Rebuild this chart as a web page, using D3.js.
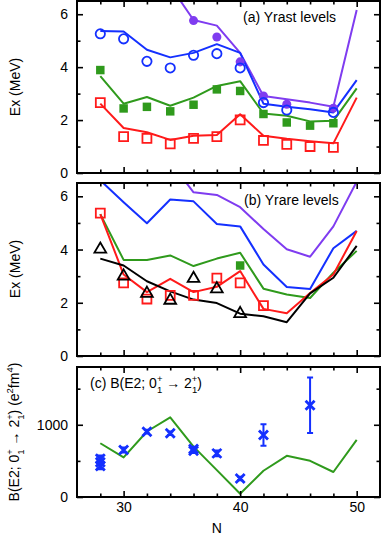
<!DOCTYPE html>
<html>
<head>
<meta charset="utf-8">
<script src="https://cdn.jsdelivr.net/npm/d3@7"></script>
<style>
  body { margin: 0; background: #fff; }
  svg { display: block; font-family: 'Liberation Sans', sans-serif; }
</style>
</head>
<body>
<svg id="chart" width="382" height="538"></svg>
<script>
// neutron numbers
const N = [28, 30, 32, 34, 36, 38, 40, 42, 44, 46, 48, 50]

// (a) yrast levels: experiment (markers) and calculation (lines)
const expA2N = [28, 30, 32, 34, 36, 38, 40, 42, 44, 46, 48]
const expA2  = [2.66, 1.375, 1.31, 1.1, 1.31, 1.375, 2.01, 1.23, 1.08, 1.0, 0.97]
const expA4N = [28, 30, 32, 34, 36, 38, 40, 42, 44, 46, 48]
const expA4  = [3.89, 2.44, 2.5, 2.33, 2.58, 3.16, 3.1, 2.23, 1.91, 1.79, 1.88]
const expA6N = [28, 30, 32, 34, 36, 38, 40, 42, 44, 48]
const expA6  = [5.26, 5.07, 4.22, 3.97, 4.45, 4.51, 3.97, 2.66, 2.38, 2.29]
const expA8N = [36, 38, 40, 42, 44, 48]
const expA8  = [5.76, 5.14, 4.2, 2.91, 2.6, 2.45]
const calcA2 = [2.62, 1.7, 1.54, 1.25, 1.41, 1.44, 2.22, 1.41, 1.29, 1.2, 1.12, 2.85]
const calcA4 = [3.66, 2.62, 2.87, 2.54, 2.85, 3.29, 3.47, 2.25, 2.16, 1.95, 1.97, 3.2]
const calcA6 = [5.37, 5.35, 4.66, 4.37, 4.54, 4.87, 4.54, 2.62, 2.5, 2.41, 2.29, 3.51]
const calcA8N = [34, 36, 38, 40, 42, 44, 46, 48, 50]
const calcA8 = [7.07, 5.78, 5.57, 4.54, 2.91, 2.79, 2.66, 2.5, 6.16]

// (b) yrare levels
const expB0N = [28, 30, 32, 34, 36, 38, 40]
const expB0  = [4.01, 3.0, 2.35, 2.09, 2.91, 2.52, 1.59]
const expB2N = [28, 30, 32, 34, 36, 38, 40, 42]
const expB2  = [5.37, 2.75, 2.14, 2.28, 2.28, 2.93, 2.75, 1.89]
const expB4N = [40]
const expB4  = [3.40]
const calcB0 = [3.66, 3.40, 2.81, 2.43, 2.12, 1.99, 1.59, 1.49, 1.27, 2.35, 2.94, 4.14]
const calcB2 = [5.33, 3.06, 2.40, 2.90, 2.40, 2.60, 3.19, 1.77, 1.61, 2.37, 3.06, 4.70]
const calcB4 = [5.33, 3.61, 3.61, 3.78, 3.38, 3.66, 3.88, 2.53, 2.31, 2.18, 3.13, 3.95]
const calcB6 = [6.6, 5.78, 4.99, 5.88, 5.81, 4.96, 4.87, 3.44, 2.59, 2.52, 4.05, 4.70]
const calcB8N = [34, 36, 38, 40, 42, 44, 46, 48, 50]
const calcB8 = [7.3, 6.15, 6.05, 5.59, 4.77, 4.01, 3.73, 4.87, 6.55]

// (c) B(E2) values
const calcBE2 = [744, 549, 907, 1102, 698, 372, 45, 363, 570, 501, 346, 791]
const expBE2N = [28, 28, 28, 30, 32, 34, 36, 36, 38, 40, 42, 46]
const expBE2  = [430, 480, 530, 650, 905, 883, 640, 665, 604, 256, 859, 1270]
const expBE2Err = [45, 40, 45, 35, 25, 25, 30, 30, 40, 25, 150, 385]

const RED = '#ff1a1a', GREEN = '#2f9a1c', BLUE = '#1430ff', PURPLE = '#7f3cf0'
const font = 'Liberation Sans, Arial, sans-serif'

const svg = d3.select('#chart')
const left = 77, right = 380
const x = d3.scaleLinear().domain([26, 52]).range([left, right])

function panel(id, top, bottom, domain, majors, minors, opts){
    const y = d3.scaleLinear().domain(domain).range([bottom, top])
    const g = svg.append('g')
    svg.append('clipPath').attr('id', 'clip' + id)
        .append('rect').attr('x', left).attr('y', top).attr('width', right - left).attr('height', bottom - top)
    const plot = g.append('g').attr('clip-path', `url(#clip${id})`)

    // inward ticks on all four sides
    const axes = [
        [d3.axisLeft(y), left, 0, majors, 6, true],
        [d3.axisLeft(y), left, 0, minors, 3.5, false],
        [d3.axisRight(y), right, 0, majors, 6, false],
        [d3.axisRight(y), right, 0, minors, 3.5, false],
        [d3.axisBottom(x), 0, bottom, [30, 40, 50], 6, opts.xlabels],
        [d3.axisBottom(x), 0, bottom, [28, 32, 34, 36, 38, 42, 44, 46, 48], 3.5, false],
        [d3.axisTop(x), 0, top, [30, 40, 50], 6, false],
        [d3.axisTop(x), 0, top, [28, 32, 34, 36, 38, 42, 44, 46, 48], 3.5, false]
    ]
    axes.forEach(([ax, tx, ty, vals, len, labels]) => {
        ax.tickValues(vals).tickSizeInner(-len).tickSizeOuter(0).tickPadding(labels ? (ty ? 5 : 9) : 0)
        ax.tickFormat(labels ? d3.format('d') : '')
        const a = g.append('g').attr('transform', `translate(${tx},${ty})`).call(ax)
        a.select('.domain').remove()
        a.selectAll('line').attr('stroke', '#000').attr('stroke-width', 1.6)
        a.selectAll('text').style('font-size', '14px').style('font-family', font).attr('fill', '#000')
    })
    g.append('rect').attr('x', left).attr('y', top).attr('width', right - left).attr('height', bottom - top)
        .attr('fill', 'none').attr('stroke', '#000').attr('stroke-width', 2)
    return {y, plot, g}
}

function line(p, xs, ys, color){
    p.plot.append('path')
        .attr('d', d3.line().x(d => x(d[0])).y(d => p.y(d[1]))(xs.map((n, i) => [n, ys[i]])))
        .attr('fill', 'none').attr('stroke', color).attr('stroke-width', 2).attr('stroke-linejoin', 'round')
}

function markers(p, xs, ys, shape, color, filled){
    const sym = {square: d3.symbolSquare, circle: d3.symbolCircle, triangle: d3.symbolTriangle}[shape]
    const size = {square: filled ? 72 : 80, circle: filled ? 64 : 68, triangle: 60}[shape]
    p.plot.append('g').selectAll('path').data(xs.map((n, i) => [n, ys[i]])).join('path')
        .attr('transform', d => `translate(${x(d[0])},${p.y(d[1])})`)
        .attr('d', d3.symbol(sym, size))
        .attr('fill', filled ? color : 'none')
        .attr('stroke', filled ? 'none' : color)
        .attr('stroke-width', 1.8)
}

// ---- (a)
const pa = panel('a', 1, 173, [0, 6.5], [0, 2, 4, 6], [1, 3, 5], {xlabels: false})
line(pa, N, calcA2, RED)
line(pa, N, calcA4, GREEN)
line(pa, calcA8N, calcA8, PURPLE)
line(pa, N, calcA6, BLUE)
markers(pa, expA8N, expA8, 'circle', PURPLE, true)
markers(pa, expA2N, expA2, 'square', RED, false)
markers(pa, expA4N, expA4, 'square', GREEN, true)
markers(pa, expA6N, expA6, 'circle', BLUE, false)

// ---- (b)
const pb = panel('b', 183, 356, [0, 6.5], [0, 2, 4, 6], [1, 3, 5], {xlabels: false})
line(pb, calcB8N, calcB8, PURPLE)
line(pb, N, calcB6, BLUE)
line(pb, N, calcB4, GREEN)
line(pb, N, calcB2, RED)
line(pb, N, calcB0, '#000')
markers(pb, expB2N, expB2, 'square', RED, false)
markers(pb, expB4N, expB4, 'square', GREEN, true)
markers(pb, expB0N, expB0, 'triangle', '#000', false)

// ---- (c)
const pc = panel('c', 367, 497, [0, 1800], [0, 1000], [500, 1500], {xlabels: true})
line(pc, N, calcBE2, GREEN)
const eb = pc.plot.append('g').attr('stroke', BLUE).attr('stroke-width', 2).attr('fill', 'none')
expBE2N.forEach((n, i) => {
    const cx = x(n), cy = pc.y(expBE2[i])
    const y0 = pc.y(expBE2[i] - expBE2Err[i]), y1 = pc.y(expBE2[i] + expBE2Err[i])
    eb.append('path').attr('d', `M${cx},${y0}V${y1}M${cx - 3},${y0}H${cx + 3}M${cx - 3},${y1}H${cx + 3}`)
    eb.append('path').attr('d', `M${cx - 4.5},${cy - 4.5}L${cx + 4.5},${cy + 4.5}M${cx - 4.5},${cy + 4.5}L${cx + 4.5},${cy - 4.5}`)
        .attr('stroke-width', 2.8)
})

// ---- texts
function label(tx, ty, str, rot){
    return svg.append('text').attr('transform', `translate(${tx},${ty})` + (rot ? ' rotate(-90)' : ''))
        .attr('text-anchor', 'middle').style('font-size', '14px').style('font-family', font).text(str)
}
label(15, 87, 'Ex (MeV)', true).attr('dy', '0.35em')
label(15, 269, 'Ex (MeV)', true).attr('dy', '0.35em')
label(x(38), 533, 'N')
svg.append('text').attr('x', 243).attr('y', 22).style('font-size', '14px').style('font-family', font).text('(a) Yrast levels')
svg.append('text').attr('x', 244).attr('y', 205).style('font-size', '14px').style('font-family', font).text('(b) Yrare levels')

// text with stacked super/subscripts: parts are strings, {sup, sub} or {sup}
function rich(t, parts){
    let shift = 0
    parts.forEach(p => {
        if(typeof p === 'string'){
            t.append('tspan').attr('dy', -shift).style('font-size', '14px').text(p)
            shift = 0
        } else if(p.sub !== undefined){
            t.append('tspan').attr('dy', -shift - 6).style('font-size', '9.5px').text(p.sup)
            t.append('tspan').attr('dx', -5.5).attr('dy', 11).style('font-size', '9.5px').text(p.sub)
            shift = 5
        } else {
            t.append('tspan').attr('dy', -shift - 6).style('font-size', '9.5px').text(p.sup)
            shift = -6
        }
    })
}
const tc = svg.append('text').attr('x', 90).attr('y', 388).style('font-family', font)
rich(tc, ['(c) B(E2; 0', {sup: '+', sub: '1'}, ' \u2192 2', {sup: '+', sub: '1'}, ')'])
const tl = svg.append('text').attr('transform', 'translate(19,432) rotate(-90)').attr('text-anchor', 'middle').style('font-family', font)
rich(tl, ['B(E2; 0', {sup: '+', sub: '1'}, ' \u2192 2', {sup: '+', sub: '1'}, ') (e', {sup: '2'}, 'fm', {sup: '4'}, ')'])
</script>
</body>
</html>
